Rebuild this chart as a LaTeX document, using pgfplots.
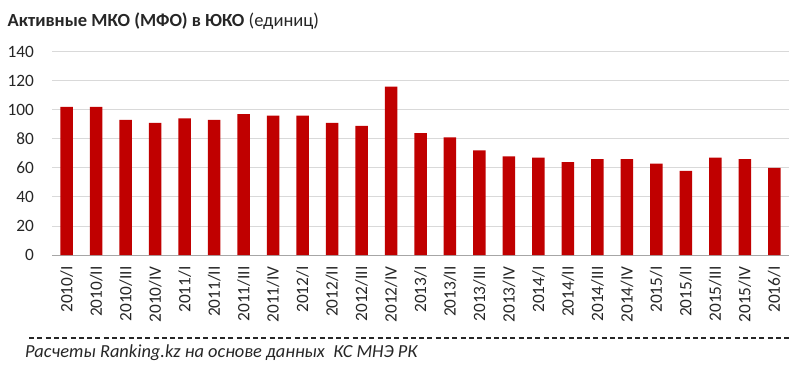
\documentclass[border=0pt]{standalone}
\usepackage{pgfplots}
\pgfplotsset{compat=1.18}
\usepackage{fontspec}
\setmainfont{Carlito}
\definecolor{barred}{RGB}{192,0,0}
\definecolor{gridg}{RGB}{217,217,217}
\definecolor{axg}{RGB}{166,166,166}
\definecolor{txt}{RGB}{38,38,38}
\begin{document}
\begin{tikzpicture}[x=1bp,y=1bp]
\useasboundingbox (0,0) rectangle (800,368);
\begin{axis}[
  at={(52bp,113bp)}, anchor=south west,
  scale only axis, width=737bp, height=203.3bp,
  xmin=-0.5, xmax=24.5, ymin=0, ymax=140,
  ytick={0,20,...,140},
  xtick={0,...,24},
  xticklabels={2010/I,2010/II,2010/III,2010/IV,2011/I,2011/II,2011/III,2011/IV,2012/I,2012/II,2012/III,2012/IV,2013/I,2013/II,2013/III,2013/IV,2014/I,2014/II,2014/III,2014/IV,2015/I,2015/II,2015/III,2015/IV,2016/I},
  axis lines*=left,
  y axis line style={draw=none},
  x axis line style={draw=axg, line width=0.9bp},
  ymajorgrids, grid style={draw=gridg, line width=0.9bp},
  major tick length=0pt,
  /pgf/number format/assume math mode=true,
  ticklabel style={font=\fontsize{17.3bp}{19bp}\selectfont, text=txt},
  yticklabel style={anchor=east, xshift=-14.5bp},
  xticklabel style={rotate=90, anchor=east, yshift=0bp, xshift=-8bp},
  ybar, bar width=12.5bp,
]
\addplot[fill=barred, draw=none] coordinates {
(0,102) (1,102) (2,93) (3,91) (4,94) (5,93) (6,97) (7,96) (8,96) (9,91) (10,89) (11,116)
(12,84) (13,81) (14,72) (15,68) (16,67) (17,64) (18,66) (19,66) (20,63) (21,58) (22,67) (23,66) (24,60)};
\end{axis}
\node[anchor=west, text=txt, inner sep=0pt] at (7.5,347) {\fontsize{18.5bp}{20bp}\selectfont\textbf{Активные МКО (МФО) в ЮКО} (единиц)};
\draw[txt, line width=1.2bp, dash pattern=on 5bp off 3.3bp] (29,30) -- (792,30);
\node[anchor=west, text=txt, inner sep=0pt] at (25,15) {\fontsize{18.4bp}{20bp}\selectfont\itshape Расчеты Ranking.kz на основе данных\ \ КС МНЭ РК};
\end{tikzpicture}
\end{document}
